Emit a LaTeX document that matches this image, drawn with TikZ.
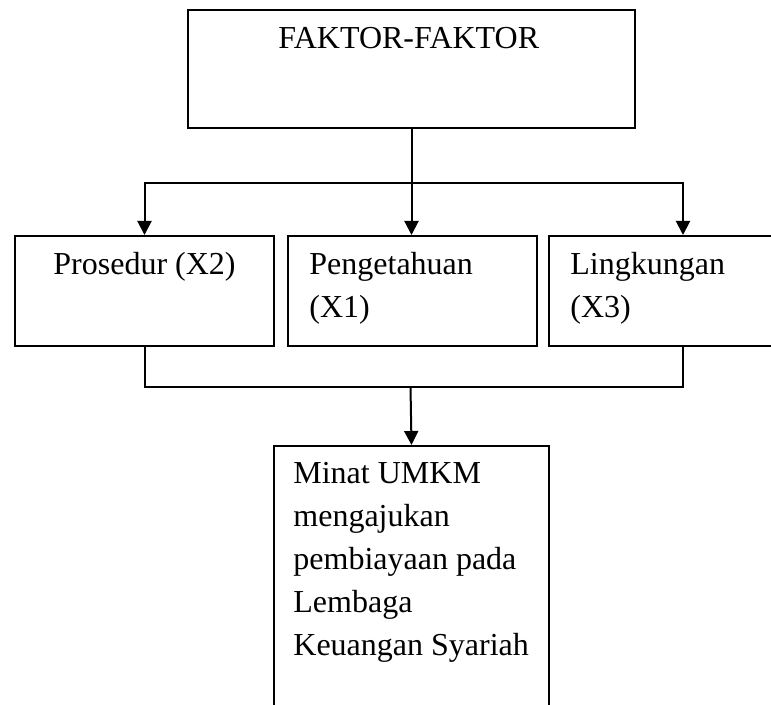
\documentclass[tikz,border=0pt]{standalone}
\usepackage{fontspec}
\setmainfont{Liberation Serif}
\usetikzlibrary{arrows.meta}

\tikzset{
  box/.style = {draw, rectangle, line width=1pt, inner sep=0pt, anchor=north west},
  boxtext/.style = {inner sep=0pt, anchor=base west, align=left,
    font=\fontsize{16pt}{21.5pt}\selectfont},
  link/.style = {line width=1pt},
  arr/.style = {link, -{Triangle[width=7pt, length=7pt]}}
}

\begin{document}
\begin{tikzpicture}[x=0.5pt, y=-0.5pt]
        \clip (0, 0) rectangle (771, 705);
        \fill[white] (0, 0) rectangle (771, 705);

        % boxes
        \node[box, minimum width=223.5pt, minimum height=59pt] (faktor) at (187, 9) {};
        \node[box, minimum width=129.5pt, minimum height=55pt] (prosedur) at (14, 235) {};
        \node[box, minimum width=124.5pt, minimum height=55pt] (tahu) at (287, 235) {};
        \node[box, minimum width=134pt, minimum height=55pt] (lingkungan) at (548, 235) {};
        \node[box, minimum width=137.5pt, minimum height=150pt] (minat) at (273, 445) {};

        % texts (base = last line)
        \node[boxtext] (faktortxt) at (278, 49) {FAKTOR-FAKTOR};
        \node[boxtext] (prosedurtxt) at (53, 275) {Prosedur (X2)};
        \node[boxtext] (tahutxt) at (309, 318) {Pengetahuan\\(X1)};
        \node[boxtext] (lingkungantxt) at (570, 318) {Lingkungan\\(X3)};
        \node[boxtext] (minattxt) at (293, 655) {Minat UMKM\\mengajukan\\pembiayaan pada\\Lembaga\\Keuangan Syariah};

        % branches down
        \coordinate (split) at (410.5, 183);
        \draw [arr] (faktor.south) -- (faktor.south |- tahu.north);
        \draw [arr] (split) -| (prosedur.north);
        \draw [arr] (split) -| (lingkungan.north);

        % join below
        \coordinate (join) at (410.5, 387);
        \draw [link] (prosedur.south) |- (join) -| (lingkungan.south);
        \draw [arr] (join) -- (minat.north);
\end{tikzpicture}
\end{document}
